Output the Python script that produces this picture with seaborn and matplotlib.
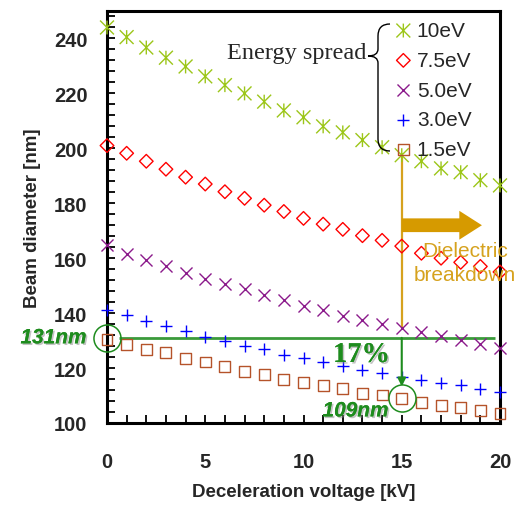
import numpy as np
import pandas as pd
import matplotlib
matplotlib.use("Agg")
import matplotlib.pyplot as plt
import seaborn as sns
from matplotlib.path import Path
from matplotlib.patches import PathPatch
from matplotlib.ticker import MultipleLocator
import matplotlib.patheffects as pe

# ---------------- data ----------------
voltage = list(range(0, 21))
e10 = [244, 240.5, 236.7, 233, 229.8, 226.2, 223, 220, 217, 213.8, 211.3,
       208, 205.8, 203, 200.4, 197.5, 195.3, 192.7, 191.3, 188.4, 186.5]
e75 = [201, 198.2, 195.3, 192.4, 189.5, 187, 184.2, 181.8, 179.3, 177, 174.5,
       172.4, 170.5, 168.2, 166.5, 164.4, 161.8, 160, 158.5, 157, 155]
e50 = [164.7, 161.5, 159.3, 157, 154.5, 152.4, 150.5, 148.7, 146.5, 144.7, 142.5,
       141, 139, 137.5, 136, 134.5, 133, 131.6, 130.3, 128.7, 127.3]
e30 = [141, 139.3, 137.1, 135.3, 133.5, 131.3, 130, 128, 127, 124.7, 123.6,
       122.3, 120.8, 119.4, 118.2, 116.7, 115.6, 114.5, 113.8, 112.4, 111.3]
e15 = [130.5, 128.7, 126.9, 125.5, 123.6, 122.2, 120.4, 118.9, 117.5, 116, 114.9,
       113.5, 112.4, 110.9, 110.2, 109, 107.6, 106.5, 105.8, 104.4, 103.6]
labels = ["10eV", "7.5eV", "5.0eV", "3.0eV", "1.5eV"]
ref_value = 131
best_value = 109
best_voltage = 15
reduction_label = "17%"

# ---------------- style ----------------
sns.set_style("white")
plt.rcParams["font.family"] = ["Liberation Sans", "DejaVu Sans"]
plt.rcParams["xtick.direction"] = "in"
plt.rcParams["ytick.direction"] = "in"

fig = plt.figure(figsize=(5.2, 5.06), dpi=100)
ax = fig.add_axes([107 / 520, 82 / 506, 393 / 520, 412 / 506])

asterisk = Path([(0, -1), (0, 1), (-1, -1), (1, 1), (-1, 1), (1, -1)],
                [Path.MOVETO, Path.LINETO, Path.MOVETO, Path.LINETO,
                 Path.MOVETO, Path.LINETO])

series = [e10, e75, e50, e30, e15]
colors = ["#9CC619", "#FF0000", "#8B1A8B", "#0000FF", "#B5532A"]
markers = [asterisk, "D", "x", "+", "s"]
sizes = [100, 48, 75, 85, 62]
lws = [1.0, 1.0, 1.0, 1.0, 1.0]

for vals, c, m, s, lw, lab in zip(series, colors, markers, sizes, lws, labels):
    df = pd.DataFrame({"V": voltage, "D": vals})
    if isinstance(m, Path) or m in ("D", "s"):
        sns.scatterplot(data=df, x="V", y="D", marker=m, s=s, facecolors="none",
                        edgecolors=c, linewidth=lw, ax=ax, label=lab,
                        clip_on=False, zorder=3)
    else:
        sns.scatterplot(data=df, x="V", y="D", marker=m, s=s, color=c,
                        linewidth=lw, ax=ax, label=lab, clip_on=False, zorder=3)

ax.set_xlim(0, 20)
ax.set_ylim(100, 250)
ax.set_xticks([0, 5, 10, 15, 20])
ax.set_yticks(list(range(100, 241, 20)))
ax.xaxis.set_minor_locator(MultipleLocator(1))
ax.yaxis.set_minor_locator(MultipleLocator(4))
ax.tick_params(which="both", direction="in", length=6, width=1.3, color="black",
               top=False, right=False, left=True, bottom=True)
ax.tick_params(axis="x", which="major", pad=21, labelsize=14.5)
ax.tick_params(axis="y", which="major", pad=14, labelsize=14.5)
for t in ax.get_xticklabels() + ax.get_yticklabels():
    t.set_fontweight("bold")
for sp in ax.spines.values():
    sp.set_visible(True)
    sp.set_linewidth(2.2)
    sp.set_color("black")

ax.set_xlabel("Deceleration voltage [kV]", fontsize=13.5, fontweight="bold", va="center")
ax.set_ylabel("Beam diameter [nm]", fontsize=13.5, fontweight="bold", va="center")
ax.xaxis.set_label_coords(0.5, -0.167)
ax.yaxis.set_label_coords(-0.19, 0.5)

# legend
leg = ax.legend(loc="upper left", bbox_to_anchor=(395 / 520, 1 - 22 / 506),
                bbox_transform=fig.transFigure, frameon=False, fontsize=15,
                handlelength=0.8, handletextpad=0.25, labelspacing=0.52,
                borderpad=0, borderaxespad=0)

# brace and "Energy spread"
def px(x, y):
    return (x / 520, 1 - y / 506)

bverts = [px(390, 25), px(378, 25), px(378, 37),
          px(378, 50),
          px(378, 57), px(368, 57),
          px(378, 57), px(378, 64),
          px(378, 140),
          px(378, 152), px(390, 152)]
bcodes = [Path.MOVETO, Path.CURVE3, Path.CURVE3,
          Path.LINETO,
          Path.CURVE3, Path.CURVE3,
          Path.CURVE3, Path.CURVE3,
          Path.LINETO,
          Path.CURVE3, Path.CURVE3]
fig.add_artist(PathPatch(Path(bverts, bcodes), transform=fig.transFigure,
                         fill=False, lw=1.0, edgecolor="black"))
fig.text(366 / 520, 1 - 53 / 506, "Energy spread", ha="right", va="center",
         fontsize=17.5, family=["Liberation Serif", "DejaVu Serif"])

# green annotations
green = "#1E8C1E"
shadow = [pe.withSimplePatchShadow(offset=(1.2, -1.2), shadow_rgbFace="#888888", alpha=0.5),
          pe.Normal()]
ax.plot([0.6, 19.75], [ref_value, ref_value], color="#3A9A3A", lw=2, zorder=2,
        solid_capstyle="butt")
ax.plot([0, best_voltage], [ref_value, best_value], linestyle="none", marker="o",
        markersize=19.5, markerfacecolor="none", markeredgecolor=green,
        markeredgewidth=1.1, clip_on=False, zorder=4)
ax.annotate("", xy=(best_voltage, best_value + 4.3), xytext=(best_voltage, ref_value),
            arrowprops=dict(arrowstyle="-|>", color=green, lw=1.5, mutation_scale=12,
                            shrinkA=0, shrinkB=0), zorder=4)
ax.text(-2.72, ref_value, "131nm", color=green, fontsize=15, fontweight="bold",
        fontstyle="italic", ha="center", va="center", clip_on=False, path_effects=shadow)
ax.text(12.65, 104.4, "109nm", color=green, fontsize=15, fontweight="bold",
        fontstyle="italic", ha="center", va="center", path_effects=shadow)
ax.text(12.95, 124.6, reduction_label, color=green, fontsize=20.5, fontweight="bold",
        family=["Liberation Serif", "DejaVu Serif"], ha="center", va="center",
        path_effects=shadow)

# dielectric breakdown
gold = "#D6A21E"
ax.plot([best_voltage, best_voltage], [e10[15], e50[15]], color=gold, lw=1.6, zorder=2)
ax.arrow(best_voltage, 172.0, 4.08, 0, width=5.0, head_width=10.5, head_length=1.15,
         length_includes_head=True, color="#D69A00", zorder=2, lw=0)
ax.text(18.2, 158.5, "Dielectric\nbreakdown", color=gold, fontsize=15, ha="center",
        va="center", linespacing=1.3, clip_on=False, zorder=5)

fig.savefig("out.png", dpi=100)
